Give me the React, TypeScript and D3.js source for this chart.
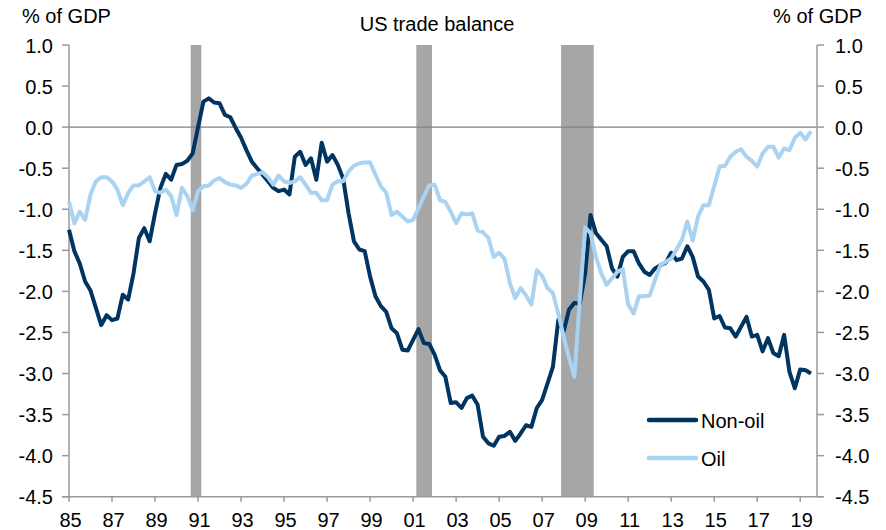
import React, { useEffect, useRef } from "react";
import * as d3 from "d3";

// quarterly, 1985Q1 .. 2019Q3, % of GDP
const nonOil = [
  -1.25, -1.51, -1.66, -1.88,
  -1.99, -2.2, -2.41, -2.29,
  -2.35, -2.33, -2.04, -2.1,
  -1.78, -1.35, -1.23, -1.39,
  -1.05, -0.74, -0.57, -0.64,
  -0.46, -0.45, -0.41, -0.32,
  0.0, 0.31, 0.35, 0.3,
  0.29, 0.15, 0.12, -0.01,
  -0.13, -0.28, -0.42, -0.5,
  -0.58, -0.66, -0.74, -0.78,
  -0.76, -0.82, -0.36, -0.3,
  -0.46, -0.38, -0.64, -0.19,
  -0.42, -0.34, -0.46, -0.63,
  -1.05, -1.39, -1.49, -1.51,
  -1.82, -2.06, -2.18, -2.25,
  -2.45, -2.51, -2.71, -2.72,
  -2.59, -2.46, -2.63, -2.64,
  -2.77, -2.96, -3.04, -3.36,
  -3.35, -3.42, -3.3, -3.27,
  -3.38, -3.77, -3.85, -3.88,
  -3.77, -3.76, -3.71, -3.82,
  -3.73, -3.63, -3.65, -3.42,
  -3.32, -3.12, -2.92, -2.35,
  -2.49, -2.22, -2.14, -2.15,
  -1.78, -1.07, -1.29, -1.37,
  -1.45, -1.72, -1.82, -1.58,
  -1.51, -1.51, -1.66, -1.76,
  -1.8, -1.72, -1.68, -1.65,
  -1.53, -1.62, -1.6, -1.45,
  -1.58, -1.82, -1.88, -1.98,
  -2.33, -2.3, -2.44, -2.45,
  -2.55, -2.43, -2.31, -2.55,
  -2.53, -2.73, -2.57, -2.75,
  -2.79, -2.53, -2.98, -3.18,
  -2.95, -2.96, -3.0,
];

const oil = [
  -0.91, -1.17, -1.03, -1.13,
  -0.82, -0.66, -0.61, -0.61,
  -0.66, -0.76, -0.95, -0.8,
  -0.71, -0.71, -0.66, -0.61,
  -0.78, -0.8, -0.76, -0.84,
  -1.07, -0.74, -0.84, -1.01,
  -0.78, -0.72, -0.71, -0.65,
  -0.62, -0.67, -0.7, -0.71,
  -0.74, -0.69, -0.59, -0.57,
  -0.55, -0.61, -0.7, -0.59,
  -0.66, -0.68, -0.66, -0.61,
  -0.7, -0.8, -0.8, -0.89,
  -0.89, -0.7, -0.66, -0.66,
  -0.54, -0.47, -0.44, -0.43,
  -0.43, -0.58, -0.72, -0.8,
  -1.07, -1.03, -1.09, -1.15,
  -1.13, -0.99, -0.84, -0.71,
  -0.7, -0.89, -0.91, -1.03,
  -1.17, -1.05, -1.06, -1.05,
  -1.26, -1.28, -1.35, -1.58,
  -1.53, -1.6, -1.9, -2.08,
  -1.96, -2.05, -2.16, -1.74,
  -1.81, -1.96, -2.02, -2.27,
  -2.55, -2.81, -3.04, -2.1,
  -1.22, -1.29, -1.58, -1.78,
  -1.92, -1.84, -1.76, -1.73,
  -2.16, -2.27, -2.06, -2.06,
  -2.05, -1.86, -1.68, -1.64,
  -1.6, -1.49, -1.37, -1.15,
  -1.38, -1.09, -0.95, -0.95,
  -0.72, -0.48, -0.47, -0.36,
  -0.3, -0.27, -0.36, -0.41,
  -0.48, -0.32, -0.24, -0.24,
  -0.37, -0.26, -0.28, -0.13,
  -0.07, -0.15, -0.05,
];

// US recessions (start, end) as decimal years
const recessions = [
  [1990.66, 1991.15],
  [2001.15, 2001.88],
  [2007.88, 2009.4],
];

const yTicks = [1.0, 0.5, 0.0, -0.5, -1.0, -1.5, -2.0, -2.5, -3.0, -3.5, -4.0, -4.5];
const xTickYears = [1985, 1987, 1989, 1991, 1993, 1995, 1997, 1999, 2001, 2003, 2005, 2007, 2009, 2011, 2013, 2015, 2017, 2019];
const xTickLabels = ["85", "87", "89", "91", "93", "95", "97", "99", "01", "03", "05", "07", "09", "11", "13", "15", "17", "19"];

const series = [
  { name: "Non-oil", values: nonOil, color: "#003461" },
  { name: "Oil", values: oil, color: "#AAD3F2" },
];

const FONT = "'Liberation Sans', Arial, sans-serif";

export default function App() {
  const ref = useRef<SVGSVGElement>(null);

  useEffect(() => {
    document.body.style.margin = "0";
    const svg = d3.select(ref.current);
    svg.selectAll("*").remove();

    const x = d3.scaleLinear().domain([1985, 2019.78]).range([69, 817]);
    const y = d3.scaleLinear().domain([-4.5, 1.0]).range([496.7, 45]);
    const axisColor = "#9a9a9a";

    // recession shading
    svg
      .selectAll("rect.rec")
      .data(recessions)
      .enter()
      .append("rect")
      .attr("x", (d) => x(d[0]))
      .attr("width", (d) => x(d[1]) - x(d[0]))
      .attr("y", y(1.0))
      .attr("height", y(-4.5) - y(1.0))
      .attr("fill", "#a6a6a6");

    // zero line
    svg
      .append("line")
      .attr("x1", x.range()[0])
      .attr("x2", x.range()[1])
      .attr("y1", y(0))
      .attr("y2", y(0))
      .attr("stroke", "#808080")
      .attr("stroke-width", 1.2);

    // left axis
    svg
      .append("line")
      .attr("x1", 69).attr("x2", 69)
      .attr("y1", y(1.0)).attr("y2", y(-4.5))
      .attr("stroke", axisColor).attr("stroke-width", 1.5);
    // right axis
    svg
      .append("line")
      .attr("x1", 817).attr("x2", 817)
      .attr("y1", y(1.0)).attr("y2", y(-4.5))
      .attr("stroke", axisColor).attr("stroke-width", 1.5);
    // bottom axis
    svg
      .append("line")
      .attr("x1", 62).attr("x2", 823)
      .attr("y1", y(-4.5)).attr("y2", y(-4.5))
      .attr("stroke", axisColor).attr("stroke-width", 1.5);

    const fmt = (v: number) => v.toFixed(1);

    yTicks.forEach((v) => {
      svg.append("line")
        .attr("x1", 62).attr("x2", 69)
        .attr("y1", y(v)).attr("y2", y(v))
        .attr("stroke", axisColor).attr("stroke-width", 1.5);
      svg.append("line")
        .attr("x1", 817).attr("x2", 824)
        .attr("y1", y(v)).attr("y2", y(v))
        .attr("stroke", axisColor).attr("stroke-width", 1.5);
      svg.append("text")
        .attr("x", 53).attr("y", y(v) + 7.5)
        .attr("text-anchor", "end")
        .attr("font-family", FONT).attr("font-size", 20)
        .attr("fill", "#000")
        .text(fmt(v));
      svg.append("text")
        .attr("x", 835).attr("y", y(v) + 7.5)
        .attr("font-family", FONT).attr("font-size", 20)
        .attr("fill", "#000")
        .text(fmt(v));
    });

    xTickYears.forEach((t, i) => {
      svg.append("line")
        .attr("x1", x(t)).attr("x2", x(t))
        .attr("y1", y(-4.5)).attr("y2", y(-4.5) + 5)
        .attr("stroke", axisColor).attr("stroke-width", 1.5);
      svg.append("text")
        .attr("x", x(t) + 1.5).attr("y", 527)
        .attr("text-anchor", "middle")
        .attr("font-family", FONT).attr("font-size", 20)
        .attr("fill", "#000")
        .text(xTickLabels[i]);
    });

    const line = d3
      .line<number>()
      .x((d, i) => x(1985 + i / 4))
      .y((d) => y(d));

    series.forEach((s) => {
      svg.append("path")
        .datum(s.values)
        .attr("d", line)
        .attr("fill", "none")
        .attr("stroke", s.color)
        .attr("stroke-width", 4)
        .attr("stroke-linejoin", "round");
    });

    // legend
    series.forEach((s, i) => {
      const ly = 420 + i * 38;
      svg.append("line")
        .attr("x1", 649).attr("x2", 696)
        .attr("y1", ly).attr("y2", ly)
        .attr("stroke", s.color).attr("stroke-width", 4.5)
        .attr("stroke-linecap", "round");
      svg.append("text")
        .attr("x", 701).attr("y", ly + 7.5)
        .attr("font-family", FONT).attr("font-size", 20)
        .attr("fill", "#000")
        .text(s.name);
    });

    // titles
    svg.append("text")
      .attr("x", 437).attr("y", 31)
      .attr("text-anchor", "middle")
      .attr("font-family", FONT).attr("font-size", 20)
      .text("US trade balance");
    svg.append("text")
      .attr("x", 22).attr("y", 23)
      .attr("font-family", FONT).attr("font-size", 20)
      .text("% of GDP");
    svg.append("text")
      .attr("x", 862).attr("y", 23)
      .attr("text-anchor", "end")
      .attr("font-family", FONT).attr("font-size", 20)
      .text("% of GDP");
  }, []);

  return (
    <div>
      <svg ref={ref} width={886} height={530} style={{ display: "block", background: "#fff" }} />
    </div>
  );
}
